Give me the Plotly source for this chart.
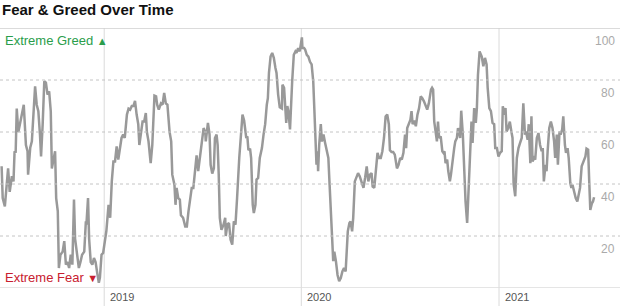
import pandas as pd
import plotly.graph_objects as go

# ---- data ----
base_date = "2018-06-22"          # day_index counts calendar days from this date
day_index = [
    3, 5, 9, 12, 15, 18, 22, 25, 27, 29, 31, 34, 37, 40, 44, 48, 51, 52, 56, 59,
    62, 65, 68, 71, 74, 76, 79, 82, 85, 88, 91, 94, 96, 99, 102, 104, 107, 109, 112, 116,
    119, 122, 125, 128, 131, 134, 137, 139, 143, 146, 149, 152, 156, 159, 160, 163, 165, 168, 171, 174,
    177, 180, 183, 185, 188, 191, 194, 197, 201, 204, 207, 210, 213, 216, 219,
    225, 228, 231, 235, 238, 241, 244, 247, 250, 253, 256, 258, 261, 264, 267, 270, 272, 275, 278, 279,
    282, 284, 286, 289, 291, 294, 298, 301, 304, 307, 310, 314, 317, 319, 321, 323, 325, 327, 330, 333,
    335, 339, 343, 346, 349, 352, 355, 358, 361, 364, 367, 370, 373, 377, 380, 381, 385, 388, 390, 393,
    396, 398, 401, 403, 405, 407, 410, 414, 417, 418, 421, 424, 427, 430, 433, 436, 439, 443,
    449, 452, 456, 458, 460, 463, 465, 468, 470, 473, 475, 478, 481, 485, 488, 491, 494, 496, 498, 501,
    504, 507, 510, 512, 515, 518, 522, 523, 526, 528, 530, 532, 534, 537, 539, 541, 544, 547, 549, 552,
    555, 559, 560, 563, 565, 568, 571, 574, 577, 580, 582, 584, 586, 588, 589, 591, 594, 596, 599, 602,
    605, 608, 610, 612, 615, 617, 619, 622, 625, 628, 631, 634, 637, 640, 642, 644, 647, 649, 652, 654,
    657, 660, 663,
    666, 670, 673, 676, 679, 682, 685, 688, 690, 693, 696, 699, 702, 705, 708, 711, 714, 717, 720, 722,
    725, 728, 731, 735, 738, 741, 744, 747, 750, 752, 754, 757, 760, 762, 764, 767, 770, 773, 776, 779,
    782, 785, 788, 791, 794, 798, 800, 802, 804, 807, 809, 811, 813, 816, 819, 821, 823, 825, 828, 830,
    833, 835, 838, 841, 843, 846, 848, 850, 852, 854, 857, 859, 862, 864, 865, 867, 870, 873, 875, 876,
    878, 881, 883, 885, 888,
    892, 895, 898, 901, 903, 906, 909, 912, 915, 917, 920, 923, 926, 929, 931, 933, 936, 938, 941, 944,
    947, 949, 951, 954, 957, 960, 963, 966, 969, 972, 974, 977, 979, 982, 984, 986, 989, 991, 994, 997,
    1000, 1003, 1005, 1007, 1010, 1012, 1014, 1017, 1020, 1023, 1026, 1028, 1031, 1033, 1036, 1038, 1041, 1043, 1046, 1048,
    1051, 1053, 1056, 1058, 1060, 1063, 1066, 1069, 1072, 1074, 1077, 1079, 1081, 1084, 1086, 1089, 1091, 1093, 1096, 1098,
    1100,
]
fear_greed = [
    46.8, 34.6, 31.4, 39.7, 46, 37, 43, 41, 52.6, 52, 69, 60, 63, 67, 70.5, 55, 52.6, 43.6, 54, 56.4,
    69, 77.6, 70.5, 68, 59, 50.6, 63, 79.5, 79, 74.4, 75.6, 68, 46, 48.7, 52.6, 34.6, 29.5, 7.7, 12.8, 14,
    18, 9, 10, 7.7, 12.8, 9, 34, 19, 11.5, 7.7, 10, 12.8, 14, 25.6, 24.4, 34.6, 19, 10, 9, 11.5,
    10, 5.8, 2, 4, 12.8, 13.5, 19, 22, 32, 27, 41, 48.7, 48.7, 54.5, 49.4,
    57.7, 59, 57.7, 66.7, 69, 68.6, 70, 70, 72, 66.7, 63, 55, 59, 64, 64, 67.3, 60, 56.4, 50, 48,
    55, 68, 74, 73.7, 70.5, 68.6, 71, 70.5, 75, 71, 70.5, 60, 56.4, 43.6, 41, 39.7, 32, 38.5, 34.6, 34,
    28, 27, 23.7, 23.7, 29.5, 34.6, 38.5, 38.5, 43.6, 51, 45, 50, 56.4, 61.5, 60, 56.4, 63.5, 59, 47.4, 44,
    46, 57.7, 59, 55, 43.6, 27, 22.4, 24.4, 27, 20, 24.4, 25, 18.6, 16.7, 25.6, 24.4, 34.6, 50,
    66.7, 64.4, 57.7, 58.3, 53, 53.6, 50, 32, 28.8, 32, 41.7, 42.3, 50, 53.8, 59, 63, 70.5, 73, 82.7, 89,
    90.4, 88.5, 84.6, 82.7, 74.4, 69.5, 69, 78.2, 77, 70.5, 63.5, 70, 68, 61, 71.8, 79.5, 89.7, 91, 90.4, 92.3,
    91, 96.4, 92.3, 92.3, 91.7, 89.7, 89, 87, 86, 79.5, 69, 55, 47.4, 52.6, 44.9, 55, 63, 56.4, 59, 55.8,
    53, 50, 41, 29.5, 19.2, 10.3, 14, 10.3, 5, 2.6, 3.8, 6.4, 7.7, 6.4, 14, 21.8, 25, 25.6, 21.8, 27,
    41, 42.3, 44.2,
    43, 40.5, 38.5, 42.3, 46.8, 41, 43.6, 44.2, 39, 38.5, 46, 52, 50, 50, 52.6, 57.7, 66, 66.7, 63, 53,
    52.3, 52.3, 51.3, 46, 47.4, 50, 49.4, 52, 59, 53.8, 61.5, 63.5, 64.7, 68, 63, 64.4, 62.2, 66.7, 69.2, 73.7,
    73, 71.8, 70.5, 68.6, 71, 76.3, 77, 76.3, 64.1, 59, 56.4, 64, 57.7, 58.3, 52.6, 52, 52.6, 48, 49.4, 45,
    41, 43.6, 50, 53.8, 56.4, 57.7, 61.5, 60.2, 57.7, 68.2, 59, 46, 33.3, 27.6, 25, 34.6, 50, 64, 55.8, 64,
    69.2, 63.5, 69.2, 82, 91,
    89, 85.3, 88.5, 86, 77, 69.2, 68, 63.5, 63, 53.8, 53.8, 50.6, 52, 52.6, 69.9, 66.7, 69.2, 60.2, 61.5, 64,
    60, 57.7, 40, 35.3, 50, 53.8, 55.8, 57.7, 71, 59, 60.2, 57, 63, 48, 66, 48.7, 50, 49.4, 57.7, 59.6,
    55, 52.6, 53.8, 41, 47.4, 44.9, 52.6, 61.5, 64, 61.5, 56.4, 50, 59, 47.4, 60.2, 59, 61, 66, 55, 52,
    53.8, 50, 40.4, 38.5, 39.7, 37.2, 34.6, 33.3, 37.2, 38.5, 46.8, 48, 48.7, 50.6, 53.6, 53.2, 41, 30, 32.6, 33.3,
    34.9,
]
year_ticks = ["2019-01-01", "2020-01-01", "2021-01-01"]
year_labels = ["2019", "2020", "2021"]
y_ticks = [20, 40, 60, 80, 100]
x_range = ["2018-06-22", "2021-08-13"]

dates = pd.Timestamp(base_date) + pd.to_timedelta(day_index, unit="D")

FONT = "Liberation Sans, Arial, Helvetica, sans-serif"
W, H = 620, 306
T, B = 28, 18
plot_h = H - T - B

fig = go.Figure()
fig.add_trace(go.Scatter(
    x=dates, y=fear_greed, mode="lines",
    line=dict(color="#999999", width=2.5),
    hoverinfo="skip", showlegend=False,
))

shapes = []
# dashed horizontal gridlines
for v in y_ticks[:-1]:
    shapes.append(dict(type="line", xref="paper", yref="y", x0=0, x1=1, y0=v, y1=v,
                       line=dict(color="#c4c4c4", width=1, dash="3px,3px")))
# solid top border and bottom axis line
shapes.append(dict(type="line", xref="paper", yref="y", x0=0, x1=1, y0=100, y1=100,
                   line=dict(color="#cfcfcf", width=1.5)))
shapes.append(dict(type="line", xref="paper", yref="y", x0=0, x1=1, y0=0, y1=0,
                   line=dict(color="#dcdcdc", width=1.5)))
# year separators (run below the axis into the label strip)
for d in year_ticks:
    shapes.append(dict(type="line", xref="x", yref="paper", x0=d, x1=d,
                       y0=-B / plot_h, y1=1, layer="below",
                       line=dict(color="#e0e0e0", width=1.2)))

annotations = []
for d, lab in zip(year_ticks, year_labels):
    annotations.append(dict(x=d, y=-B / plot_h / 2, xref="x", yref="paper", text=lab,
                            showarrow=False, xanchor="left", yanchor="middle", xshift=4,
                            font=dict(family=FONT, size=11, color="#555555")))
for v in y_ticks:
    annotations.append(dict(x=1, y=v, xref="paper", yref="y", text=str(v),
                            showarrow=False, xanchor="right", yanchor="middle",
                            xshift=-3, yshift=-13,
                            font=dict(family=FONT, size=12, color="#aaaaaa")))
annotations.append(dict(x=0, y=1, xref="paper", yref="paper", xanchor="left", yanchor="middle",
                        xshift=3, yshift=-12, showarrow=False,
                        text="Extreme Greed <span style='font-size:11px'>▲</span>",
                        font=dict(family=FONT, size=13, color="#2a9d4b")))
annotations.append(dict(x=0, y=0, xref="paper", yref="paper", xanchor="left", yanchor="middle",
                        xshift=3, yshift=11, showarrow=False,
                        text="Extreme Fear <span style='font-size:11px'>▼</span>",
                        font=dict(family=FONT, size=13, color="#c8202f")))
annotations.append(dict(x=0, y=1, xref="paper", yref="paper", xanchor="left", yanchor="middle",
                        xshift=0, yshift=T - 9, showarrow=False,
                        text="<b>Fear &amp; Greed Over Time</b>",
                        font=dict(family=FONT, size=15, color="#111111")))

fig.update_layout(
    width=W, height=H,
    margin=dict(l=0, r=0, t=T, b=B, pad=0),
    paper_bgcolor="white", plot_bgcolor="white",
    xaxis=dict(type="date", range=x_range, showgrid=False, zeroline=False,
               showticklabels=False, showline=False, ticks="", fixedrange=True),
    yaxis=dict(range=[0, 100], showgrid=False, zeroline=False,
               showticklabels=False, showline=False, ticks="", fixedrange=True),
    shapes=shapes, annotations=annotations,
)

fig.write_html("out.html", config={"displayModeBar": False})
